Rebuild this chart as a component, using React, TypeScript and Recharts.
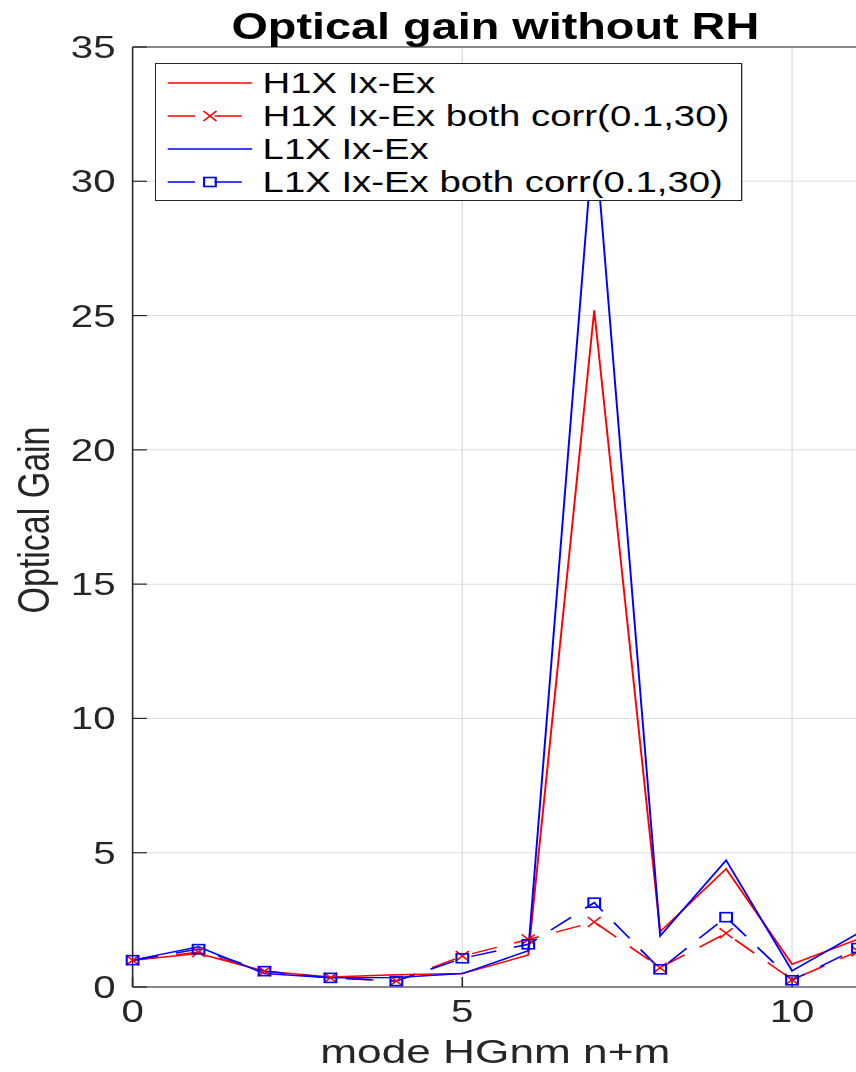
import React from 'react';
import { LineChart, Line, XAxis, YAxis, CartesianGrid, Legend } from 'recharts';

// mode order n+m and measured optical gain per mode
const modes = [0, 1, 2, 3, 4, 5, 6, 7, 8, 9, 10, 11];
const h1xIxEx = [1.0, 1.25, 0.59, 0.37, 0.46, 0.5, 1.19, 25.2, 2.06, 4.4, 0.85, 1.78];
const h1xBothCorr = [1.0, 1.3, 0.59, 0.34, 0.22, 1.15, 1.77, 2.42, 0.72, 2.0, 0.27, 1.33];
const l1xIxEx = [1.0, 1.5, 0.5, 0.34, 0.35, 0.5, 1.35, 32.0, 1.9, 4.72, 0.6, 2.0];
const l1xBothCorr = [1.0, 1.41, 0.59, 0.34, 0.22, 1.07, 1.59, 3.14, 0.66, 2.6, 0.25, 1.45];

const xTicks = [0, 5, 10];
const yTicks = [0, 5, 10, 15, 20, 25, 30, 35];

const RED = '#ff0000';
const BLUE = '#0000ff';
const AXIS = '#262626';
const DASH = '20 14';

type Marker = 'none' | 'x' | 'square';

const series: { key: string; name: string; color: string; dashed: boolean; marker: Marker }[] = [
  { key: 'h1x', name: 'H1X Ix-Ex', color: RED, dashed: false, marker: 'none' },
  { key: 'h1xCorr', name: 'H1X Ix-Ex both corr(0.1,30)', color: RED, dashed: true, marker: 'x' },
  { key: 'l1x', name: 'L1X Ix-Ex', color: BLUE, dashed: false, marker: 'none' },
  { key: 'l1xCorr', name: 'L1X Ix-Ex both corr(0.1,30)', color: BLUE, dashed: true, marker: 'square' },
];

const data = modes.map((m, i) => ({
  mode: m,
  h1x: h1xIxEx[i],
  h1xCorr: h1xBothCorr[i],
  l1x: l1xIxEx[i],
  l1xCorr: l1xBothCorr[i],
}));

// matlab-ish figure is stretched horizontally
const STRETCH = 1.3;
const W = 670;
const H = 1072;

const MarkerShape = ({ cx, cy, color, marker }: { cx: number; cy: number; color: string; marker: Marker }) => {
  if (cx == null || cy == null || marker === 'none') return null;
  if (marker === 'x') {
    const r = 5;
    return (
      <path
        d={`M${cx - r},${cy - r}L${cx + r},${cy + r}M${cx - r},${cy + r}L${cx + r},${cy - r}`}
        stroke={color}
        strokeWidth={1.4}
        fill="none"
      />
    );
  }
  return <rect x={cx - 4.5} y={cy - 4.5} width={9} height={9} stroke={color} strokeWidth={1.6} fill="none" />;
};

const LegendBox = () => (
  <svg width={452} height={138} style={{ display: 'block' }}>
    <rect x={0.5} y={0.5} width={451} height={137} fill="#fff" stroke={AXIS} strokeWidth={1} />
    {series.map((s, i) => {
      const y = 20 + i * 33;
      return (
        <g key={s.key}>
          <line
            x1={10}
            x2={75}
            y1={y}
            y2={y}
            stroke={s.color}
            strokeWidth={1.4}
            strokeDasharray={s.dashed ? '21 15' : undefined}
          />
          <MarkerShape cx={42.5} cy={y} color={s.color} marker={s.marker} />
          <text x={83} y={y + 10} fontSize={29.5} fill="#000">
            {s.name}
          </text>
        </g>
      );
    })}
  </svg>
);

const TitleLabel = (props: any) => {
  const { x, width } = props.viewBox;
  return (
    <text x={x + width / 2} y={39} textAnchor="middle" fontSize={36} fontWeight="bold" fill="#000">
      Optical gain without RH
    </text>
  );
};

const XTitle = (props: any) => {
  const { x, y, width } = props.viewBox;
  return (
    <text x={x + width / 2} y={y + 76} textAnchor="middle" fontSize={34} fill={AXIS}>
      mode HGnm n+m
    </text>
  );
};

const YTitle = (props: any) => {
  const { y, height } = props.viewBox;
  const cx = 38;
  const cy = y + height / 2 + 3;
  return (
    <text x={cx} y={cy} transform={`rotate(-90 ${cx} ${cy})`} textAnchor="middle" fontSize={34} fill={AXIS}>
      Optical Gain
    </text>
  );
};

export default function App() {
  return (
    <div
      style={{
        position: 'absolute',
        left: 0,
        top: 0,
        width: 856,
        height: H,
        overflow: 'hidden',
        background: '#fff',
        fontFamily: '"Liberation Sans", Arial, Helvetica, sans-serif',
      }}
    >
      <div style={{ width: W, height: H, transform: `scaleX(${STRETCH})`, transformOrigin: '0 0' }}>
        <LineChart width={W} height={H} data={data} margin={{ top: 46, right: 9, bottom: 0, left: 0 }}>
          <CartesianGrid stroke="#dedede" strokeWidth={1} />
          <XAxis
            dataKey="mode"
            type="number"
            domain={[0, 11]}
            ticks={xTicks}
            interval={0}
            height={85}
            tickSize={-10}
            tickMargin={23}
            axisLine={{ stroke: AXIS, strokeWidth: 1.2 }}
            tickLine={{ stroke: AXIS, strokeWidth: 1.2 }}
            tick={{ fill: AXIS, fontSize: 31 }}
            label={<XTitle />}
          />
          <XAxis
            xAxisId="top"
            orientation="top"
            dataKey="mode"
            type="number"
            domain={[0, 11]}
            ticks={xTicks}
            interval={0}
            height={1}
            tickSize={-10}
            axisLine={{ stroke: AXIS, strokeWidth: 1.2 }}
            tickLine={{ stroke: AXIS, strokeWidth: 1.2 }}
            tick={false}
            label={<TitleLabel />}
          />
          <YAxis
            type="number"
            domain={[0, 35]}
            ticks={yTicks}
            interval={0}
            width={102}
            tickSize={-11}
            tickMargin={24}
            axisLine={{ stroke: AXIS, strokeWidth: 1.2 }}
            tickLine={{ stroke: AXIS, strokeWidth: 1.2 }}
            tick={{ fill: AXIS, fontSize: 31 }}
            label={<YTitle />}
          />
          <YAxis
            yAxisId="right"
            orientation="right"
            type="number"
            domain={[0, 35]}
            ticks={yTicks}
            interval={0}
            width={1}
            tickSize={-11}
            axisLine={{ stroke: AXIS, strokeWidth: 1.2 }}
            tickLine={{ stroke: AXIS, strokeWidth: 1.2 }}
            tick={false}
          />
          {series.map((s) => (
            <Line
              key={s.key}
              dataKey={s.key}
              name={s.name}
              type="linear"
              stroke={s.color}
              strokeWidth={1.5}
              strokeDasharray={s.dashed ? DASH : undefined}
              dot={
                s.marker === 'none'
                  ? false
                  : (p: any) => (
                      <MarkerShape key={`${s.key}-${p.index}`} cx={p.cx} cy={p.cy} color={s.color} marker={s.marker} />
                    )
              }
              activeDot={false}
              isAnimationActive={false}
            />
          ))}
          <Legend
            layout="horizontal"
            verticalAlign="middle"
            align="center"
            content={<LegendBox />}
            wrapperStyle={{ position: 'absolute', left: 119, top: 63, width: 452, height: 138, margin: 0, padding: 0 }}
          />
        </LineChart>
      </div>
    </div>
  );
}
